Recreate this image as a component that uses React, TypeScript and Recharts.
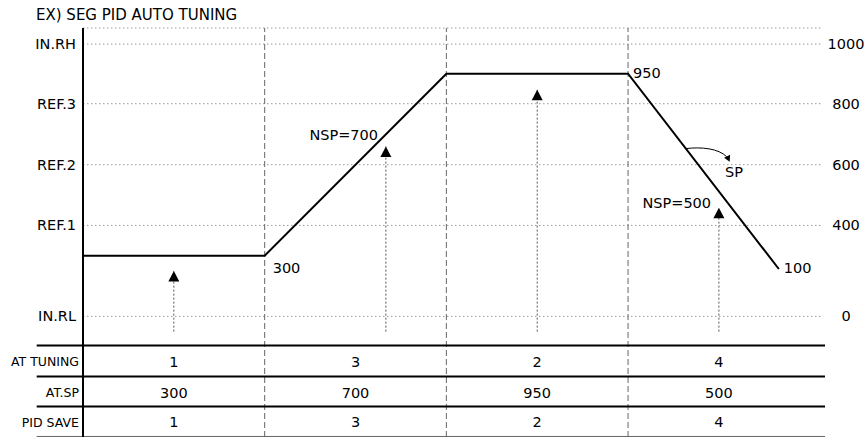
import React from "react";
import {
  ComposedChart,
  Line,
  XAxis,
  YAxis,
  CartesianGrid,
  ReferenceLine,
  ReferenceDot,
  Scatter,
  LabelList,
} from "recharts";

// schematic value scale: IN.RL = 0, IN.RH = 1000 (drawing units)
const segmentEdges = [1, 2, 3];
const profileX = [0, 1, 2, 3, 3.83];
const profileY = [223, 223, 891, 891, 174];
const profileLabels = ["", "300", "", "950", "100"];

const levelValues = [0, 334, 557, 781, 1000];
const leftLabels = ["IN.RL", "REF.1", "REF.2", "REF.3", "IN.RH"];
const rightLabels = ["0", "400", "600", "800", "1000"];

const tuneX = [0.5, 1.667, 2.5, 3.5];
const tuneTipY = [167, 624, 832, 399];
const tuneFootY = -56;

const nspX = [1.624, 3.457];
const nspY = [667, 417];
const nspText = ["NSP=700", "NSP=500"];
const spArrowAt = { x: 3.317, y: 616 };
const spText = { x: 3.583, y: 530, text: "SP" };

const cellX = [0.5, 1.5, 2.5, 3.5];
const rowNames = ["AT TUNING", "AT.SP", "PID SAVE"];
const atTuning = ["1", "3", "2", "4"];
const atSp = ["300", "700", "950", "500"];
const pidSave = ["1", "3", "2", "4"];
const rowY = [-167, -281, -388];
const ruleY = [-107, -221, -331, -441];
const tableFrom = -0.255;
const tableTo = 4.084;

const FONT = "'DejaVu Sans', 'Liberation Sans', Arial, sans-serif";

const profile = profileX.map((x, i) => ({ x, y: profileY[i], label: profileLabels[i] }));
const tips = tuneX.map((x, i) => ({ x, y: tuneTipY[i] }));
const tableRows = [atTuning, atSp, pidSave];

const LeftTick = (props: any) => {
  const { x, y, index } = props;
  return (
    <text x={x + 1} y={y} textAnchor="end" dominantBaseline="central" fontSize={14.5} fill="#000" fontFamily={FONT}>
      {leftLabels[index]}
    </text>
  );
};

const RightTick = (props: any) => {
  const { x, y, index } = props;
  return (
    <text x={x + 15} y={y} textAnchor="middle" dominantBaseline="central" fontSize={14.5} fill="#000" fontFamily={FONT}>
      {rightLabels[index]}
    </text>
  );
};

const Tip = (props: any) => {
  const { cx, cy } = props;
  return <path d={`M${cx},${cy} L${cx + 5.5},${cy + 10.5} L${cx - 5.5},${cy + 10.5} Z`} fill="#000" />;
};

const ProfileLabel = (props: any) => {
  const { x, y, value, index } = props;
  if (!value) return null;
  const below = index === 1;
  return (
    <text
      x={x + (below ? 8 : 5)}
      y={y + (below ? 12 : -1)}
      dominantBaseline="central"
      fontSize={14.5}
      fill="#000"
      fontFamily={FONT}
    >
      {value}
    </text>
  );
};

const textShape = (txt: string, anchor: "start" | "middle" | "end", size: number, dx = 0) =>
  (p: any) => (
    <text
      x={p.cx + dx}
      y={p.cy}
      textAnchor={anchor}
      dominantBaseline="central"
      fontSize={size}
      fill="#000"
      fontFamily={FONT}
    >
      {txt}
    </text>
  );

const SpArrow = (p: any) => {
  const { cx, cy } = p;
  return (
    <g>
      <path d={`M${cx},${cy} C${cx + 16},${cy - 2} ${cx + 33},${cy} ${cx + 41},${cy + 8}`} fill="none" stroke="#000" strokeWidth={1} />
      <path d={`M${cx + 44},${cy + 13} L${cx + 44.5},${cy + 6} L${cx + 38.5},${cy + 9} Z`} fill="#000" />
    </g>
  );
};

export default function App() {
  return (
    <div style={{ position: "absolute", left: 0, top: 0, width: 868, height: 437, background: "#fff" }}>
      <div
        style={{
          position: "absolute",
          left: 36,
          top: 6,
          fontFamily: FONT,
          fontSize: 15,
          lineHeight: "18px",
          color: "#000",
          whiteSpace: "nowrap",
        }}
      >
        EX) SEG PID AUTO TUNING
      </div>
      <ComposedChart width={868} height={437} margin={{ top: 28, right: 0, bottom: 0, left: 0 }}>
        <XAxis type="number" dataKey="x" domain={[0, 4.073]} allowDataOverflow hide />
        <YAxis
          type="number"
          domain={[-443, 1059]}
          allowDataOverflow
          ticks={levelValues}
          interval={0}
          width={83}
          axisLine={{ stroke: "#000", strokeWidth: 2 }}
          tickLine={false}
          tick={<LeftTick />}
        />
        <YAxis
          yAxisId="right"
          orientation="right"
          type="number"
          domain={[-443, 1059]}
          allowDataOverflow
          ticks={levelValues}
          interval={0}
          width={45}
          axisLine={false}
          tickLine={false}
          tick={<RightTick />}
        />
        <CartesianGrid vertical={false} stroke="#999" strokeDasharray="1.5 2.5" />

        {segmentEdges.map((x) => (
          <ReferenceLine key={`edge-${x}`} x={x} stroke="#666" strokeDasharray="6 3" />
        ))}

        {ruleY.map((y, i) => (
          <ReferenceLine
            key={`rule-${i}`}
            segment={[
              { x: tableFrom, y },
              { x: tableTo, y },
            ]}
            ifOverflow="visible"
            stroke={i === ruleY.length - 1 ? "#666" : "#000"}
            strokeWidth={i === ruleY.length - 1 ? 1 : 2}
          />
        ))}

        {tuneX.map((x, i) => (
          <ReferenceLine
            key={`tune-${i}`}
            segment={[
              { x, y: tuneFootY },
              { x, y: tuneTipY[i] },
            ]}
            stroke="#555"
            strokeDasharray="2 2"
          />
        ))}

        <Line
          data={profile}
          dataKey="y"
          type="linear"
          stroke="#000"
          strokeWidth={2}
          dot={false}
          isAnimationActive={false}
        >
          <LabelList dataKey="label" content={<ProfileLabel />} />
        </Line>

        <Scatter data={tips} dataKey="y" shape={<Tip />} isAnimationActive={false} />

        {nspText.map((t, i) => (
          <ReferenceDot key={`nsp-${i}`} x={nspX[i]} y={nspY[i]} r={0} shape={textShape(t, "end", 14.5)} />
        ))}
        <ReferenceDot x={spText.x} y={spText.y} r={0} shape={textShape(spText.text, "middle", 14.5)} />
        <ReferenceDot x={spArrowAt.x} y={spArrowAt.y} r={0} shape={SpArrow} />

        {rowNames.map((name, i) => (
          <ReferenceDot
            key={`row-${i}`}
            x={0}
            y={rowY[i]}
            r={0}
            ifOverflow="visible"
            shape={textShape(name, "end", 12.5, -4)}
          />
        ))}
        {tableRows.map((row, i) =>
          row.map((v, j) => (
            <ReferenceDot
              key={`cell-${i}-${j}`}
              x={cellX[j]}
              y={rowY[i]}
              r={0}
              shape={textShape(v, "middle", 14.5)}
            />
          ))
        )}
      </ComposedChart>
    </div>
  );
}
